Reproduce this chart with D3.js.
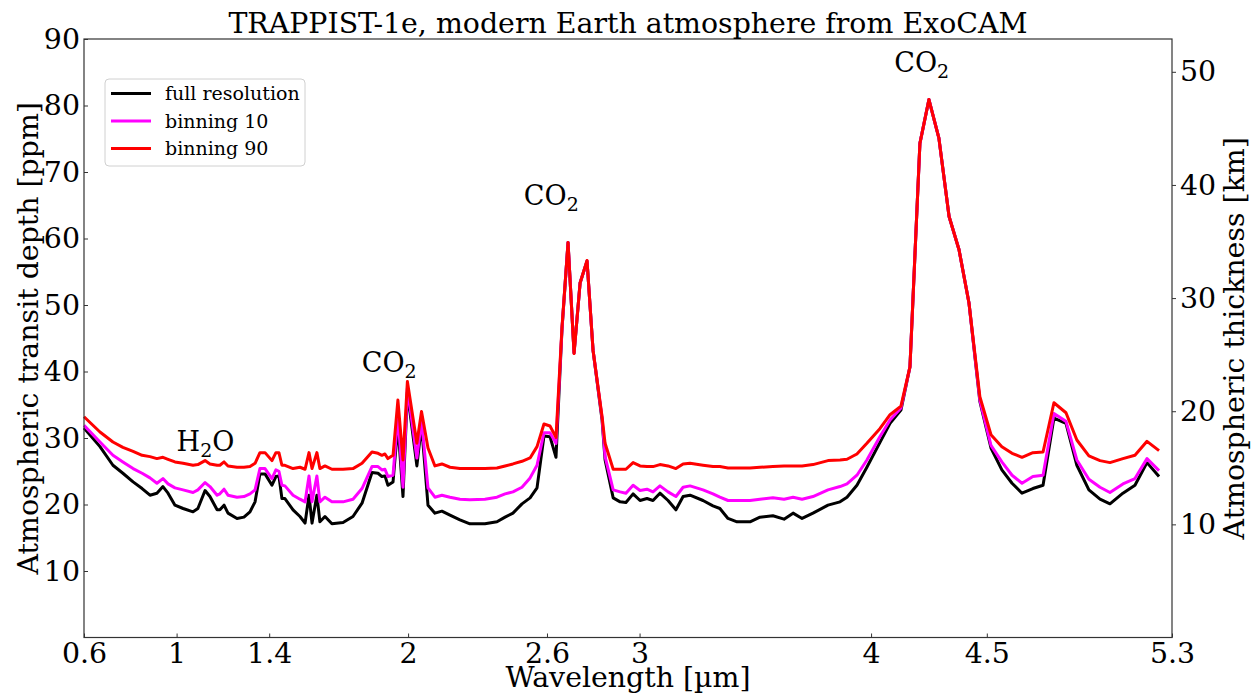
<!DOCTYPE html>
<html>
<head>
<meta charset="utf-8">
<script src="https://d3js.org/d3.v7.min.js"></script>
<style>
  body { margin: 0; background: #fff; }
  svg text { font-family: "DejaVu Serif", serif; fill: #000; }
</style>
</head>
<body>
<svg id="chart"></svg>

<script>
  // transit spectrum of TRAPPIST-1e, three resolutions
  var width = 1256;
  var height = 695;
  var plotLeft = 84, plotRight = 1172, plotTop = 39, plotBottom = 637.5;
  var fontSize = 28.4;

  var wavelength = [
    0.600, 0.669, 0.725, 0.768, 0.812, 0.851, 0.885, 0.915, 0.941, 0.963,
    0.993, 1.028, 1.071, 1.092, 1.123, 1.144, 1.175, 1.187, 1.205, 1.222,
    1.261, 1.291, 1.317, 1.339, 1.360, 1.382, 1.412, 1.429, 1.442, 1.455,
    1.468, 1.503, 1.533, 1.555, 1.572, 1.585, 1.606, 1.619, 1.641, 1.671,
    1.719, 1.762, 1.801, 1.844, 1.870, 1.887, 1.900, 1.913, 1.935, 1.956,
    1.978, 1.997, 2.038, 2.058, 2.086, 2.116, 2.146, 2.181, 2.224, 2.267,
    2.332, 2.384, 2.419, 2.453, 2.492, 2.527, 2.557, 2.587, 2.613, 2.639,
    2.665, 2.691, 2.717, 2.743, 2.773, 2.799, 2.838, 2.851, 2.886, 2.916,
    2.941, 2.972, 3.002, 3.032, 3.058, 3.088, 3.123, 3.157, 3.188, 3.218,
    3.274, 3.317, 3.347, 3.382, 3.421, 3.477, 3.520, 3.576, 3.624, 3.663,
    3.702, 3.749, 3.814, 3.866, 3.896, 3.939, 3.982, 4.038, 4.082, 4.129,
    4.168, 4.211, 4.250, 4.293, 4.337, 4.380, 4.423, 4.470, 4.518, 4.565,
    4.609, 4.652, 4.699, 4.743, 4.790, 4.842, 4.889, 4.941, 4.989, 5.032,
    5.088, 5.140, 5.192, 5.244
  ];

  var fullRes = [
    31.5, 28.7, 25.9, 24.7, 23.4, 22.4, 21.4, 21.7, 22.7, 21.7,
    19.9, 19.4, 18.9, 19.4, 22.1, 21.2, 19.2, 19.2, 19.9, 18.7,
    17.9, 18.1, 18.9, 20.4, 24.6, 24.6, 22.9, 24.2, 24.3, 20.9,
    20.9, 19.2, 18.2, 17.2, 21.4, 17.2, 21.4, 17.4, 18.2, 17.1,
    17.3, 18.2, 20.2, 24.8, 24.7, 24.2, 24.3, 22.9, 23.4, 32.0,
    21.2, 36.9, 25.8, 32.0, 19.9, 18.7, 19.0, 18.4, 17.7, 17.1,
    17.1, 17.4, 18.1, 18.7, 20.1, 21.0, 22.5, 30.3, 30.2, 27.1,
    46.5, 59.4, 42.8, 53.3, 56.6, 43.2, 32.7, 26.7, 21.0, 20.4,
    20.3, 21.6, 20.6, 20.9, 20.6, 21.7, 20.6, 19.2, 21.2, 21.4,
    20.6, 19.8, 19.4, 17.9, 17.4, 17.4, 18.1, 18.3, 17.8, 18.7,
    17.9, 18.7, 19.9, 20.4, 21.1, 22.9, 25.6, 29.3, 32.2, 34.2,
    40.7, 74.3, 80.9, 75.1, 63.3, 58.3, 50.3, 35.5, 28.5, 25.2,
    23.2, 21.7, 22.4, 22.9, 33.0, 32.2, 25.9, 22.2, 20.8, 20.1,
    21.7, 22.9, 26.3, 24.2
  ];

  var binning10 = [
    31.9, 29.4, 27.4, 26.4, 25.4, 24.7, 24.0, 23.2, 23.9, 23.1,
    22.5, 22.2, 21.8, 22.2, 23.3, 22.7, 21.4, 21.6, 22.3, 21.4,
    21.1, 21.2, 21.6, 22.2, 25.4, 25.4, 23.9, 25.2, 25.0, 22.9,
    22.8, 21.4, 20.8, 20.4, 24.3, 20.4, 24.3, 20.4, 21.1, 20.4,
    20.4, 20.8, 22.4, 25.7, 25.7, 25.2, 25.3, 24.2, 24.4, 33.5,
    22.6, 37.5, 27.0, 32.7, 22.5, 21.1, 21.4, 21.1, 20.8, 20.7,
    20.8, 21.1, 21.6, 21.9, 22.6, 24.0, 25.9, 30.8, 30.8, 29.2,
    46.5, 59.4, 42.8, 53.3, 56.6, 43.2, 33.0, 27.2, 22.2, 21.9,
    21.7, 22.9, 22.1, 22.3, 21.9, 22.8, 21.9, 21.2, 22.6, 22.8,
    22.2, 21.6, 21.1, 20.6, 20.6, 20.6, 20.8, 21.0, 20.8, 21.1,
    20.8, 21.2, 22.2, 22.7, 23.1, 24.4, 26.7, 30.2, 32.7, 34.5,
    40.7, 74.3, 80.9, 75.1, 63.3, 58.3, 50.3, 35.7, 28.9, 26.4,
    24.4, 23.2, 24.2, 24.4, 33.7, 32.5, 26.7, 23.8, 22.6, 21.8,
    23.1, 23.9, 26.9, 25.1
  ];

  var binning90 = [
    33.2, 30.9, 29.4, 28.6, 28.0, 27.4, 27.2, 26.9, 27.1, 26.8,
    26.4, 26.2, 25.9, 26.0, 26.6, 26.1, 25.9, 25.9, 26.4, 25.8,
    25.6, 25.6, 25.7, 26.2, 27.8, 27.8, 26.6, 27.8, 27.8, 25.9,
    25.9, 25.4, 25.6, 25.3, 27.8, 25.4, 27.8, 25.4, 25.8, 25.3,
    25.3, 25.4, 26.2, 27.9, 27.7, 27.4, 27.6, 26.9, 27.4, 35.7,
    26.7, 38.5, 29.2, 34.0, 28.5, 25.8, 26.1, 25.6, 25.4, 25.4,
    25.4, 25.5, 25.8, 26.1, 26.5, 27.0, 28.7, 32.1, 31.8, 30.1,
    46.7, 59.4, 42.7, 53.3, 56.7, 43.2, 33.2, 29.2, 25.3, 25.3,
    25.3, 26.3, 25.8, 25.7, 25.7, 26.0, 25.8, 25.4, 26.1, 26.2,
    25.9, 25.7, 25.7, 25.5, 25.5, 25.5, 25.6, 25.7, 25.8, 25.8,
    25.8, 26.0, 26.6, 26.7, 26.8, 27.6, 29.2, 31.4, 33.5, 34.8,
    40.7, 74.3, 80.9, 75.1, 63.3, 58.3, 50.3, 36.2, 30.5, 28.7,
    27.7, 27.1, 27.8, 27.9, 35.3, 33.8, 29.7, 27.3, 26.6, 26.3,
    26.9, 27.4, 29.5, 28.1
  ];

  var seriesNames = ["full resolution", "binning 10", "binning 90"];
  var seriesValues = [fullRes, binning10, binning90];
  var seriesColors = ["#000000", "#ff00ff", "#ff0000"];

  var xTicks = [0.6, 1, 1.4, 2, 2.6, 3, 4, 4.5, 5.3];
  var yTicks = [10, 20, 30, 40, 50, 60, 70, 80, 90];
  var kmTicks = [10, 20, 30, 40, 50];

  // band labels, anchored at (wavelength, ppm)
  var bandLabels = ["H2O", "CO2", "CO2", "CO2"];
  var bandWave = [1.0, 1.8, 2.5, 4.1];
  var bandPpm = [28, 40, 65, 85];

  var xscale = d3.scaleLinear().domain([0.6, 5.3]).range([plotLeft, plotRight]);
  var yscale = d3.scaleLinear().domain([0, 90]).range([plotBottom, plotTop]);
  var kmscale = d3.scaleLinear().domain([0, 52.9]).range([plotBottom, plotTop]);

  var svg = d3.select("#chart")
    .attr("width", width)
    .attr("height", height);

  svg.append("rect")
    .attr("width", width).attr("height", height)
    .attr("fill", "#fff");

  // data lines (red drawn last so it sits on top)
  var line = d3.line()
    .x(function(d) { return xscale(d[0]); })
    .y(function(d) { return yscale(d[1]); });

  svg.selectAll(".series")
    .data(seriesValues)
    .enter()
    .append("path")
    .attr("class", "series")
    .attr("d", function(vals) {
      return line(vals.map(function(v, i) { return [wavelength[i], v]; }));
    })
    .attr("fill", "none")
    .attr("stroke", function(d, i) { return seriesColors[i]; })
    .attr("stroke-width", 3)
    .attr("stroke-linejoin", "round");

  // axes
  var axisColor = "#333";

  var bottomAxis = svg.append("g")
    .attr("transform", "translate(0," + plotBottom + ")")
    .call(d3.axisBottom(xscale).tickValues(xTicks)
      .tickFormat(function(d) { return d; })
      .tickSizeInner(-4).tickSizeOuter(0).tickPadding(5));

  var leftAxis = svg.append("g")
    .attr("transform", "translate(" + plotLeft + ",0)")
    .call(d3.axisLeft(yscale).tickValues(yTicks)
      .tickSizeInner(-4).tickSizeOuter(0).tickPadding(4));

  var rightAxis = svg.append("g")
    .attr("transform", "translate(" + plotRight + ",0)")
    .call(d3.axisRight(kmscale).tickValues(kmTicks)
      .tickSizeInner(4).tickSizeOuter(0).tickPadding(4));

  [bottomAxis, leftAxis, rightAxis].forEach(function(ax) {
    ax.select(".domain").remove();
    ax.attr("color", axisColor);
    ax.selectAll("text")
      .attr("font-family", "DejaVu Serif")
      .attr("font-size", fontSize)
      .attr("fill", "#000");
  });

  // frame
  svg.append("rect")
    .attr("x", plotLeft).attr("y", plotTop)
    .attr("width", plotRight - plotLeft)
    .attr("height", plotBottom - plotTop)
    .attr("fill", "none")
    .attr("stroke", axisColor)
    .attr("stroke-width", 1.2);

  // titles
  svg.append("text")
    .attr("x", (plotLeft + plotRight) / 2).attr("y", 33)
    .attr("text-anchor", "middle")
    .attr("font-size", fontSize)
    .text("TRAPPIST-1e, modern Earth atmosphere from ExoCAM");

  svg.append("text")
    .attr("x", (plotLeft + plotRight) / 2).attr("y", 687)
    .attr("text-anchor", "middle")
    .attr("font-size", fontSize)
    .text("Wavelength [\u00b5m]");

  svg.append("text")
    .attr("transform", "translate(38," + (plotTop + plotBottom) / 2 + ") rotate(-90)")
    .attr("text-anchor", "middle")
    .attr("font-size", fontSize)
    .text("Atmospheric transit depth [ppm]");

  svg.append("text")
    .attr("transform", "translate(1244," + (plotTop + plotBottom) / 2 + ") rotate(-90)")
    .attr("text-anchor", "middle")
    .attr("font-size", fontSize)
    .text("Atmospheric thickness [km]");

  // molecule labels with subscripts
  bandLabels.forEach(function(label, i) {
    var t = svg.append("text")
      .attr("x", xscale(bandWave[i]))
      .attr("y", yscale(bandPpm[i]))
      .attr("font-size", 27)
      .attr("font-family", label == "H2O" ? "DejaVu Serif" : "DejaVu Sans");
    var shifted = false;
    label.split("").forEach(function(ch) {
      var isSub = /[0-9]/.test(ch);
      var ts = t.append("tspan").text(ch);
      if (isSub) {
        ts.attr("font-size", 19).attr("dy", 6);
        shifted = true;
      } else if (shifted) {
        ts.attr("dy", -6);
        shifted = false;
      }
    });
  });

  // legend
  var legend = svg.append("g").attr("transform", "translate(105,79)");

  legend.append("rect")
    .attr("width", 200).attr("height", 87)
    .attr("rx", 4)
    .attr("fill", "#fff").attr("fill-opacity", 0.8)
    .attr("stroke", "#d0d0d0");

  legend.selectAll(".legline")
    .data(seriesNames)
    .enter()
    .append("line")
    .attr("x1", 6).attr("x2", 46)
    .attr("y1", function(d, i) { return 14.5 + i * 27.5; })
    .attr("y2", function(d, i) { return 14.5 + i * 27.5; })
    .attr("stroke", function(d, i) { return seriesColors[i]; })
    .attr("stroke-width", 3);

  legend.selectAll(".legtext")
    .data(seriesNames)
    .enter()
    .append("text")
    .attr("x", 60)
    .attr("y", function(d, i) { return 21 + i * 27.5; })
    .attr("font-size", 19)
    .text(function(d) { return d; });
</script>
</body>
</html>
